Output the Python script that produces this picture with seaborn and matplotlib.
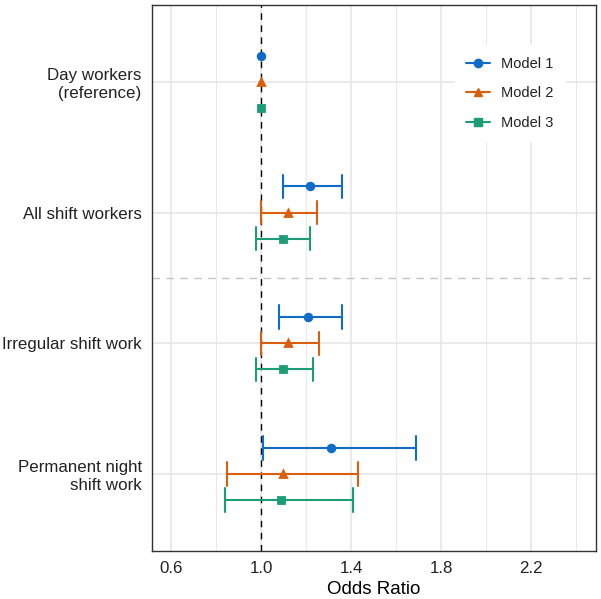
import numpy as np
import pandas as pd
import matplotlib.pyplot as plt
import seaborn as sns
from matplotlib.lines import Line2D

# --- data ---
categories = ["Day workers\n(reference)", "All shift workers",
              "Irregular shift work", "Permanent night\nshift work"]
models = ["Model 1", "Model 2", "Model 3"]

m1_est = [1.00, 1.22, 1.21, 1.31]
m1_lo = [1.00, 1.10, 1.08, 1.01]
m1_hi = [1.00, 1.36, 1.36, 1.69]

m2_est = [1.00, 1.12, 1.12, 1.10]
m2_lo = [1.00, 1.00, 1.00, 0.85]
m2_hi = [1.00, 1.25, 1.26, 1.43]

m3_est = [1.00, 1.10, 1.10, 1.09]
m3_lo = [1.00, 0.98, 0.98, 0.84]
m3_hi = [1.00, 1.22, 1.23, 1.41]

x_ticks = [0.6, 1.0, 1.4, 1.8, 2.2]
x_minor = [0.8, 1.2, 1.6, 2.0, 2.4]

colors = ["#0F6DC8", "#D95F0E", "#1B9E77"]
markers = ["o", "^", "s"]

# long table: lo / est / hi rows per point -> median = estimate, min/max = CI
rows = []
for model, est, lo, hi in zip(models, [m1_est, m2_est, m3_est],
                              [m1_lo, m2_lo, m3_lo], [m1_hi, m2_hi, m3_hi]):
    for cat, e, l, h in zip(categories, est, lo, hi):
        for v in (l, e, h):
            rows.append({"Group": cat, "Model": model, "OR": v})
df = pd.DataFrame(rows)


def ci_range(v):
    # reference group has no interval -> draw nothing
    if v.max() > v.min():
        return v.min(), v.max()
    return np.nan, np.nan


sns.set_theme(style="white")
plt.rcParams["font.family"] = ["Liberation Sans", "DejaVu Sans"]

fig = plt.figure(figsize=(6.01, 5.99), dpi=100)
ax = fig.add_axes([0.253, 0.080, 0.739, 0.912])

ax.axvline(1.0, color="black", linestyle=(0, (4.7, 4.0)), linewidth=1.0, zorder=1.5)
ax.axhline(1.5, color="#C4C4C4", linestyle=(0, (5.5, 4.5)), linewidth=1.0, zorder=1.5)

sns.pointplot(data=df, x="OR", y="Group", hue="Model", order=categories,
              hue_order=models, palette=colors, markers=markers,
              estimator="median", errorbar=ci_range,
              dodge=0.4, linestyle="none", capsize=0.18, markersize=4.8,
              err_kws={"linewidth": 1.5}, legend=False, ax=ax)

ax.set_xlim(0.516, 2.49)
ax.set_ylim(3.59, -0.59)
ax.set_xticks(x_ticks)
ax.set_xticks(x_minor, minor=True)
ax.set_xticklabels([f"{t:.1f}" for t in x_ticks])
ax.grid(which="major", axis="both", color="#E6E6E6", linewidth=1.2)
ax.grid(which="minor", axis="x", color="#E9E9E9", linewidth=0.8)
ax.set_axisbelow(True)
ax.set_xlabel("Odds Ratio", fontsize=13.5, color="black", labelpad=3)
ax.set_ylabel("")

ax.tick_params(axis="both", which="major", direction="out", length=4,
               width=1, color="#333333", labelsize=12.2, labelcolor="#222222")
ax.tick_params(axis="x", which="minor", length=0)
for s in ax.spines.values():
    s.set_color("#333333")
    s.set_linewidth(1.0)

handles = [Line2D([0], [0], color=c, marker=m, markersize=6, linewidth=1.5)
           for c, m in zip(colors, markers)]
leg = ax.legend(handles, models, loc="upper left", bbox_to_anchor=(0.665, 0.939),
                frameon=True, facecolor="white", edgecolor="white", framealpha=1,
                fontsize=10.5, handlelength=1.6, labelspacing=1.05,
                borderpad=0.8, handletextpad=0.8, fancybox=False)
for t in leg.get_texts():
    t.set_color("#222222")

fig.savefig("out.png", dpi=100)
